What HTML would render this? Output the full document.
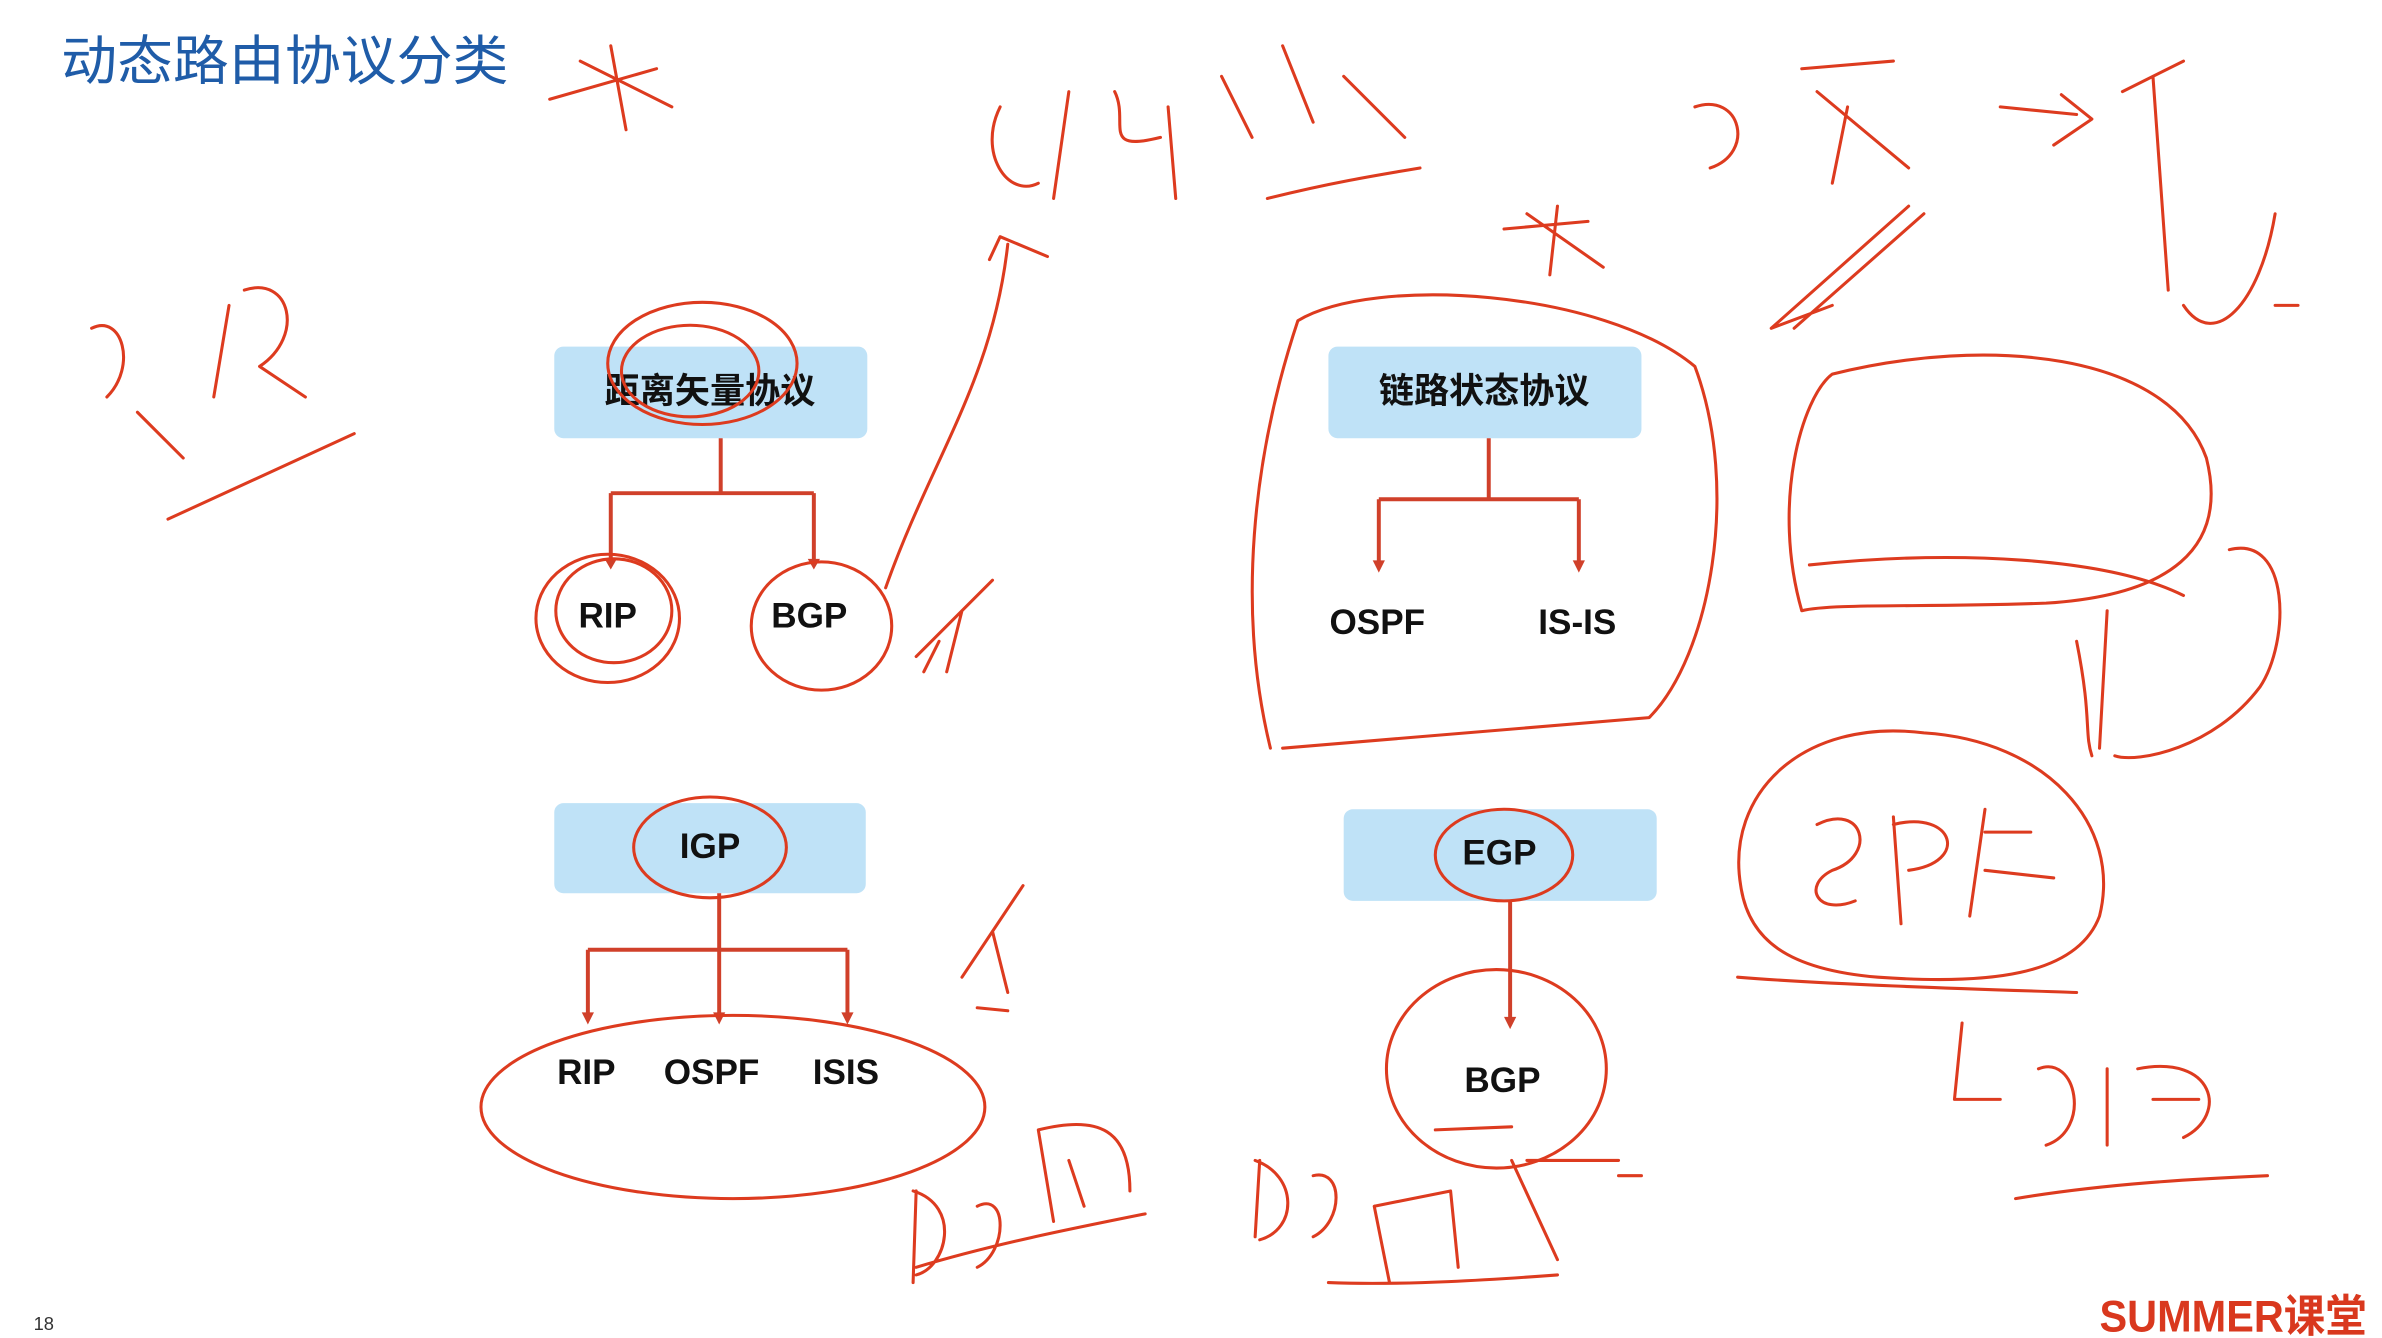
<!DOCTYPE html>
<html><head><meta charset="utf-8"><style>
html,body{margin:0;padding:0;background:#fff;}
svg{display:block;}
.lbl{font-family:"Liberation Sans","Noto Sans CJK SC",sans-serif;font-weight:bold;font-size:23px;fill:#111;text-anchor:middle;dominant-baseline:middle;}
.box{fill:#bfe2f7;}
.tree{stroke:#d0402a;stroke-width:2.6;fill:none;}
.ink{stroke:#dd3b1f;stroke-width:2;fill:none;stroke-linecap:round;stroke-linejoin:round;}
</style></head><body>
<svg width="2382" height="1338" viewBox="0 0 1560 876.3" preserveAspectRatio="none">
<text x="40" y="52" font-family="'Liberation Sans','Noto Sans CJK SC',sans-serif" font-size="35" fill="#1f5ca8" textLength="293" lengthAdjust="spacingAndGlyphs">动态路由协议分类</text>

<g>
<rect class="box" x="363" y="227" width="205" height="60" rx="6"/>
<text class="lbl" x="465" y="258">距离矢量协议</text>
<path class="tree" d="M472,287 V323 M400,323 H533 M400,323 V370 M533,323 V370"/>
<path d="M396,366 L404,366 L400,373Z M529,366 L537,366 L533,373Z" fill="#d0402a"/>
<text class="lbl" x="398" y="405">RIP</text>
<text class="lbl" x="530" y="405">BGP</text>
</g>

<g>
<rect class="box" x="870" y="227" width="205" height="60" rx="6"/>
<text class="lbl" x="972" y="258">链路状态协议</text>
<path class="tree" d="M975,287 V327 M903,327 H1034 M903,327 V370 M1034,327 V370"/>
<path d="M899,367 L907,367 L903,375Z M1030,367 L1038,367 L1034,375Z" fill="#d0402a"/>
<text class="lbl" x="902" y="409">OSPF</text>
<text class="lbl" x="1033" y="409">IS-IS</text>
</g>

<g>
<rect class="box" x="363" y="526" width="204" height="59" rx="6"/>
<text class="lbl" x="465" y="556">IGP</text>
<path class="tree" d="M471,585 V665 M385,622 H555 M385,622 V665 M555,622 V665"/>
<path d="M381,663 L389,663 L385,671Z M467,663 L475,663 L471,671Z M551,663 L559,663 L555,671Z" fill="#d0402a"/>
<text class="lbl" x="384" y="704">RIP</text>
<text class="lbl" x="466" y="704">OSPF</text>
<text class="lbl" x="554" y="704">ISIS</text>
</g>

<g>
<rect class="box" x="880" y="530" width="205" height="60" rx="6"/>
<text class="lbl" x="982" y="560">EGP</text>
<path class="tree" d="M989,590 V668"/>
<path d="M985,666 L993,666 L989,674Z" fill="#d0402a"/>
<text class="lbl" x="984" y="709">BGP</text>
</g>

<g>
<ellipse class="ink" cx="460" cy="238" rx="62" ry="40"/>
<ellipse class="ink" cx="452" cy="243" rx="45" ry="30"/>
<ellipse class="ink" cx="398" cy="405" rx="47" ry="42"/>
<ellipse class="ink" cx="402" cy="400" rx="38" ry="34"/>
<ellipse class="ink" cx="538" cy="410" rx="46" ry="42"/>
<path class="ink" d="M580,385 C610,300 650,250 660,160 M648,170 L655,155 L686,168"/>
<path class="ink" d="M832,490 C810,400 820,300 850,210 C900,180 1050,190 1110,240 C1140,320 1120,430 1080,470 L840,490"/>
<path class="ink" d="M1000,140 L1050,175 M985,150 L1040,145 M1020,135 L1015,180"/>
<ellipse class="ink" cx="465" cy="555" rx="50" ry="33"/>
<ellipse class="ink" cx="480" cy="725" rx="165" ry="60"/>
<ellipse class="ink" cx="985" cy="560" rx="45" ry="30"/>
<ellipse class="ink" cx="980" cy="700" rx="72" ry="65"/>
<path class="ink" d="M1180,400 C1160,330 1180,260 1200,245 C1300,220 1420,230 1445,300 C1460,360 1420,390 1340,395 C1260,398 1200,395 1180,400"/>
<path class="ink" d="M1185,370 C1280,360 1380,365 1430,390"/>
<path class="ink" d="M1140,580 C1130,520 1180,470 1260,480 C1340,485 1390,540 1375,600 C1360,640 1300,645 1230,640 C1170,635 1145,615 1140,580"/>
<path class="ink" d="M1138,640 C1200,645 1300,648 1360,650"/>
<path class="ink" d="M1190,540 C1220,525 1230,560 1200,570 C1180,580 1190,600 1215,590 M1240,535 L1245,605 M1240,540 C1280,530 1290,565 1250,570 M1300,530 L1290,600 M1300,545 L1330,545 M1300,570 L1345,575"/>
<path class="ink" d="M1160,215 L1250,135 M1175,215 L1260,140 M1160,215 L1200,200"/>
<path class="ink" d="M1310,70 L1360,75 M1350,62 L1370,78 L1345,95"/>
<path class="ink" d="M1360,420 C1370,470 1365,480 1370,495 M1380,400 L1375,490 M1460,360 C1500,350 1500,420 1480,450 C1450,490 1400,500 1385,495"/>
<path class="ink" d="M1320,785 C1380,775 1440,772 1485,770"/>
<path class="ink" d="M110,340 L232,284"/>
<path class="ink" d="M60,215 C80,205 90,240 70,260 M90,270 L120,300 M150,200 L140,260 M160,190 C190,180 200,220 170,240 L200,260"/>
<path class="ink" d="M360,65 L430,45 M400,30 L410,85 M380,40 L440,70"/>
<path class="ink" d="M655,70 C640,100 660,130 680,120 M700,60 L690,130 M730,60 C740,80 720,100 760,90 M765,70 L770,130 M800,50 L820,90 M840,30 L860,80 M880,50 L920,90 M830,130 C870,120 900,115 930,110"/>
<path class="ink" d="M1110,70 C1140,60 1150,100 1120,110 M1180,45 L1240,40 M1190,60 L1250,110 M1210,70 L1200,120"/>
<path class="ink" d="M1390,60 L1430,40 M1410,50 L1420,190 M1430,200 C1450,230 1480,200 1490,140 M1490,200 L1505,200"/>
<path class="ink" d="M600,430 L650,380 M620,440 L630,400 M605,440 L615,420"/>
<path class="ink" d="M630,640 L670,580 M650,610 L660,650 M640,660 L660,662"/>
<path class="ink" d="M600,780 L598,840 M598,780 C630,790 620,830 600,835 M640,790 C660,780 660,820 640,830 M680,740 L690,800 M680,740 C720,730 740,740 740,780 M700,760 L710,790 M600,830 C650,815 700,805 750,795"/>
<path class="ink" d="M825,760 L822,810 M822,760 C850,770 850,805 825,812 M860,770 C880,765 880,800 860,810 M900,790 L910,840 M900,790 L950,780 L955,830 M870,840 C920,842 980,838 1020,835 M990,760 L1020,825 M1000,760 L1060,760 M1060,770 L1075,770"/>
<path class="ink" d="M1285,670 L1280,720 L1310,720 M1335,700 C1360,690 1370,740 1340,750 M1380,700 L1380,750 M1400,700 C1450,690 1460,730 1430,745 M1410,720 L1440,720"/>
<path class="ink" d="M940,740 L990,738"/>
</g>

<text x="22" y="871" font-family="'Liberation Sans',sans-serif" font-size="12" fill="#333">18</text>
<text x="1375" y="872" font-family="'Liberation Sans','Noto Sans CJK SC',sans-serif" font-weight="bold" font-size="29" fill="#d9381e" textLength="175" lengthAdjust="spacingAndGlyphs">SUMMER课堂</text>
</svg>
</body></html>
